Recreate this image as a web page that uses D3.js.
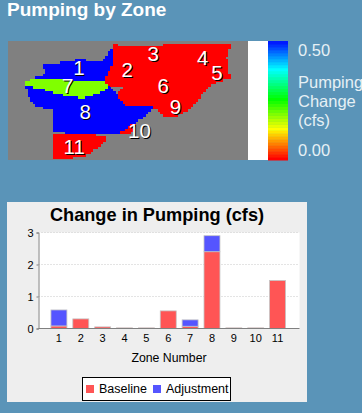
<!DOCTYPE html>
<html>
<head>
<meta charset="utf-8">
<script src="https://cdnjs.cloudflare.com/ajax/libs/d3/7.8.5/d3.min.js"></script>
<style>
    html, body { margin: 0; padding: 0; background: #5a94b8; }
    svg { display: block; }
    text { font-family: "Liberation Sans", Arial, sans-serif; }
</style>
</head>
<body>
<script>
const zones = ['1', '2', '3', '4', '5', '6', '7', '8', '9', '10', '11']
const baseline = [0.08, 0.3, 0.05, 0.02, 0.02, 0.55, 0.07, 2.4, 0.02, 0.02, 1.5]
const adjustment = [0.5, 0, 0, 0, 0, 0, 0.2, 0.5, 0, 0, 0]
const yTicks = [0, 1, 2, 3]
const seriesNames = ['Baseline', 'Adjustment']

const legendStops = [0, 0.125, 0.25, 0.5, 0.75, 0.875, 1]
const legendColors = ['#ff0000', '#ff8000', '#ffff00', '#00ff00', '#00ffff', '#0080ff', '#0000ff']
const legendSteps = d3.range(0, 1, 1 / 40)
const legendLines = ['Pumping', 'Change', '(cfs)']

// zone outlines in map grid units, later ones paint over earlier ones
const outlineNorth = [[342, 45], [330, 65], [310, 92], [270, 95], [250, 88], [205, 95], [170, 100], [128, 105], [128, 115], [145, 125], [130, 135], [115, 140], [100, 148], [100, 170], [320, 170], [340, 100]]
const outlineCentre = [[78, 165], [130, 150], [300, 160], [330, 172], [350, 195], [380, 230], [465, 233], [420, 268], [355, 315], [156, 307], [156, 240], [140, 235], [110, 230], [90, 205], [78, 175]]
const outlineNorthEast = [[342, 45], [400, 50], [470, 48], [545, 42], [580, 40], [640, 42], [688, 40], [690, 55], [680, 80], [682, 110], [690, 145], [640, 160], [610, 190], [590, 215], [560, 245], [530, 260], [490, 258], [465, 234], [380, 230], [350, 195], [372, 172], [330, 170], [312, 155], [340, 100]]
const outlineSmall = [[418, 268], [356, 315], [390, 315], [400, 290]]
const outlineSouth = [[156, 309], [322, 318], [300, 350], [250, 380], [156, 392]]
const outlineGreen = [[78, 160], [100, 145], [150, 148], [220, 152], [290, 157], [312, 158], [330, 172], [300, 190], [250, 205], [200, 200], [130, 180], [78, 170]]
const outlines = [outlineGreen, outlineSouth, outlineSmall, outlineNorthEast, outlineCentre, outlineNorth]
const outlineFills = ['#80ff00', '#ff0000', '#ff0000', '#ff0000', '#0000ff', '#0000ff']

const zoneLabels = ['1', '2', '3', '4', '5', '6', '7', '8', '9', '10', '11']
const zoneLabelX = [237, 382, 460, 609, 652, 490, 203, 256, 527, 419, 223]
const zoneLabelY = [113, 120, 72, 84, 130, 167, 167, 245, 232, 304, 352]

const width = 362
const height = 413

const svg = d3.select('body').append('svg')
    .attr('width', width)
    .attr('height', height)

svg.append('text')
    .attr('x', 7)
    .attr('y', 16)
    .attr('fill', '#ffffff')
    .attr('font-size', 19)
    .attr('font-weight', 'bold')
    .text('Pumping by Zone')

// map
const scaleMapX = d3.scaleLinear().domain([24, 745]).range([8, 248])
const scaleMapY = d3.scaleLinear().domain([35, 392]).range([41, 160])
const gridStep = 7.5

const map = svg.append('g')
map.append('rect')
    .attr('x', scaleMapX(24))
    .attr('y', scaleMapY(35))
    .attr('width', scaleMapX(745) - scaleMapX(24))
    .attr('height', scaleMapY(392) - scaleMapY(35))
    .attr('fill', '#808080')

// the map is a coarse raster, so sample the outlines on a grid
const cells = []
for (const gx of d3.range(24, 745, gridStep)) {
    for (const gy of d3.range(35, 392, gridStep)) {
        const centre = [gx + gridStep / 2, gy + gridStep / 2]
        const hit = outlines.findIndex(o => d3.polygonContains(o, centre))
        if (hit >= 0) cells.push({ gx, gy, fill: outlineFills[hit] })
    }
}
map.append('g')
    .attr('shape-rendering', 'crispEdges')
    .selectAll('rect')
    .data(cells)
    .join('rect')
    .attr('x', d => scaleMapX(d.gx))
    .attr('y', d => scaleMapY(d.gy))
    .attr('width', scaleMapX(gridStep) - scaleMapX(0) + 0.5)
    .attr('height', scaleMapY(gridStep) - scaleMapY(0) + 0.5)
    .attr('fill', d => d.fill)

const labelGroup = map.append('g')
    .attr('font-size', 20.5)
    .attr('text-anchor', 'middle')
    .attr('dominant-baseline', 'central')
labelGroup.selectAll('text.shadow')
    .data(zoneLabels)
    .join('text')
    .classed('shadow', true)
    .attr('x', (d, i) => scaleMapX(zoneLabelX[i]) + 1)
    .attr('y', (d, i) => scaleMapY(zoneLabelY[i]) + 1)
    .attr('fill', '#000000')
    .text(d => d)
labelGroup.selectAll('text.front')
    .data(zoneLabels)
    .join('text')
    .classed('front', true)
    .attr('x', (d, i) => scaleMapX(zoneLabelX[i]))
    .attr('y', (d, i) => scaleMapY(zoneLabelY[i]))
    .attr('fill', '#ffffff')
    .text(d => d)

// colour legend
const scaleLegendColor = d3.scaleLinear().domain(legendStops).range(legendColors)
const scaleLegendY = d3.scaleLinear().domain([0, 1]).range([160, 41])

svg.append('rect')
    .attr('x', 248)
    .attr('y', 41)
    .attr('width', 20)
    .attr('height', 119)
    .attr('fill', '#ffffff')
svg.append('g')
    .selectAll('rect')
    .data(legendSteps)
    .join('rect')
    .attr('x', 268)
    .attr('y', d => scaleLegendY(d + 1 / 40))
    .attr('width', 20)
    .attr('height', scaleLegendY(0) - scaleLegendY(1 / 40) + 0.5)
    .attr('fill', d => scaleLegendColor(d))

const legendText = svg.append('g')
    .attr('fill', '#e6f0f5')
    .attr('font-size', 16.5)
legendText.append('text').attr('x', 298).attr('y', 56).text('0.50')
legendText.append('text').attr('x', 298).attr('y', 156).text('0.00')
legendText.selectAll('text.line')
    .data(legendLines)
    .join('text')
    .classed('line', true)
    .attr('x', 298)
    .attr('y', (d, i) => 88 + i * 19)
    .text(d => d)

// bar chart
const leftX = 38.5
const rightX = 299.5
const topY = 232.5
const bottomY = 328.5

svg.append('rect')
    .attr('x', 7)
    .attr('y', 202)
    .attr('width', 300)
    .attr('height', 200)
    .attr('fill', '#eeeeee')
svg.append('text')
    .attr('x', 157)
    .attr('y', 221)
    .attr('text-anchor', 'middle')
    .attr('font-size', 18.2)
    .attr('font-weight', 'bold')
    .attr('fill', '#000000')
    .text('Change in Pumping (cfs)')

const scaleZone = d3.scaleBand()
    .domain(zones)
    .range([48, 288.5])
    .paddingInner(0.27)
    .paddingOuter(0.135)
const scaleValue = d3.scaleLinear()
    .domain([0, 3])
    .range([bottomY, topY])

svg.append('rect')
    .attr('x', leftX)
    .attr('y', topY)
    .attr('width', rightX - leftX)
    .attr('height', bottomY - topY)
    .attr('fill', '#ffffff')

svg.append('g')
    .selectAll('line')
    .data(yTicks.slice(1))
    .join('line')
    .attr('x1', leftX)
    .attr('x2', rightX)
    .attr('y1', d => scaleValue(d))
    .attr('y2', d => scaleValue(d))
    .attr('stroke', '#c8c8c8')
    .attr('stroke-dasharray', '1 2')

const stack = d3.stack().keys([0, 1]).value((d, key) => d[key])
const stacked = stack(zones.map((z, i) => [baseline[i], adjustment[i]]))
const seriesFills = ['#ff5555', '#5555ff']

svg.append('g')
    .selectAll('g')
    .data(stacked)
    .join('g')
    .attr('fill', (d, i) => seriesFills[i])
    .selectAll('rect')
    .data(d => d.filter(p => p[1] > p[0]).map(p => ({ p, zone: p.data })))
    .join('rect')
    .attr('x', d => scaleZone(zones[stackedIndex(d.p)]))
    .attr('y', d => scaleValue(d.p[1]))
    .attr('width', scaleZone.bandwidth())
    .attr('height', d => scaleValue(d.p[0]) - scaleValue(d.p[1]))
    .attr('stroke', '#c4c4c4')
    .attr('stroke-width', 0.8)

function stackedIndex(p) {
    return stacked[0].findIndex(q => q.data === p.data)
}

const axisValueFn = d3.axisLeft(scaleValue).tickValues(yTicks).tickSize(2).tickPadding(3).tickFormat(d3.format('d'))
const axisValue = svg.append('g')
    .attr('transform', `translate(${leftX}, 0)`)
    .call(axisValueFn)
const axisZoneFn = d3.axisBottom(scaleZone).tickSize(0).tickPadding(6)
const axisZone = svg.append('g')
    .attr('transform', `translate(0, ${bottomY})`)
    .call(axisZoneFn)
axisZone.select('.domain').attr('d', `M${leftX},0H${rightX}`)
for (const axis of [axisValue, axisZone]) {
    axis.selectAll('.domain').attr('stroke', '#808080')
    axis.selectAll('.tick line').attr('stroke', '#808080')
    axis.selectAll('text')
        .attr('fill', '#000000')
        .attr('font-size', 11)
        .attr('font-family', '"Liberation Sans", Arial, sans-serif')
}

svg.append('text')
    .attr('x', 169)
    .attr('y', 362)
    .attr('text-anchor', 'middle')
    .attr('font-size', 12.3)
    .attr('fill', '#000000')
    .text('Zone Number')

// series legend
const legendBox = svg.append('g')
legendBox.append('rect')
    .attr('x', 82.5)
    .attr('y', 377.5)
    .attr('width', 148)
    .attr('height', 23)
    .attr('fill', '#ffffff')
    .attr('stroke', '#000000')
const legendItemX = [86, 153]
legendBox.selectAll('rect.swatch')
    .data(seriesNames)
    .join('rect')
    .classed('swatch', true)
    .attr('x', (d, i) => legendItemX[i])
    .attr('y', 385)
    .attr('width', 8)
    .attr('height', 8)
    .attr('fill', (d, i) => seriesFills[i])
legendBox.selectAll('text')
    .data(seriesNames)
    .join('text')
    .attr('x', (d, i) => legendItemX[i] + 13)
    .attr('y', 393)
    .attr('font-size', 12.5)
    .attr('fill', '#000000')
    .text(d => d)
</script>
</body>
</html>
